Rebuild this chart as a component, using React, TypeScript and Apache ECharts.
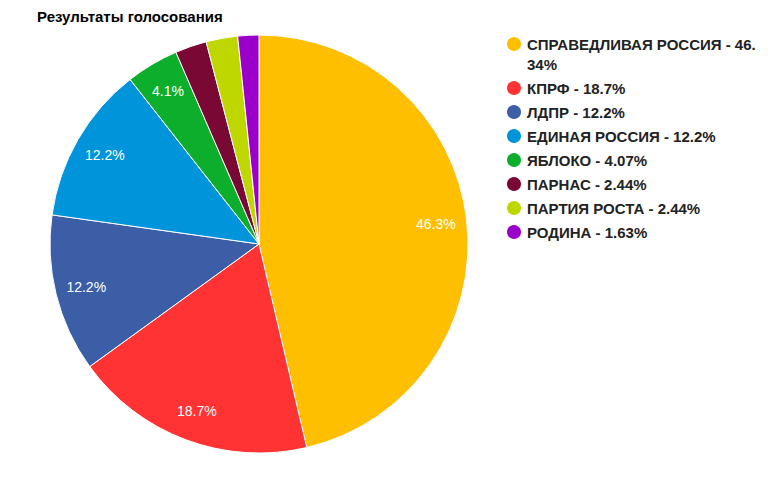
import React, { useEffect, useRef } from "react";
import * as echarts from "echarts";

const parties = [
  "СПРАВЕДЛИВАЯ РОССИЯ",
  "КПРФ",
  "ЛДПР",
  "ЕДИНАЯ РОССИЯ",
  "ЯБЛОКО",
  "ПАРНАС",
  "ПАРТИЯ РОСТА",
  "РОДИНА",
];
const shares = [46.34, 18.7, 12.2, 12.2, 4.07, 2.44, 2.44, 1.63];
const colors = [
  "#FDBF00",
  "#FF3333",
  "#3B5EA6",
  "#0094DB",
  "#0CAE2B",
  "#7A0835",
  "#BFD700",
  "#9A00C9",
];
const titleText = "Результаты голосования";

const FONT = "Liberation Sans, Arial, sans-serif";
const LEGEND_FONT_SIZE = 15;
const LEGEND_WRAP = 233;

function wrapText(text: string): string[] {
  const ctx = document.createElement("canvas").getContext("2d")!;
  ctx.font = `bold ${LEGEND_FONT_SIZE}px "Liberation Sans", Arial, sans-serif`;
  const lines: string[] = [];
  let cur = "";
  for (const ch of text) {
    if (cur && ctx.measureText(cur + ch).width > LEGEND_WRAP) {
      lines.push(cur);
      cur = ch;
    } else cur += ch;
  }
  if (cur) lines.push(cur);
  return lines;
}

export default function App() {
  const ref = useRef<HTMLDivElement>(null);
  useEffect(() => {
    document.body.style.margin = "0";
    const chart = echarts.init(ref.current!, null, { renderer: "svg" });
    const data = parties.map((name, i) => ({
      name,
      value: shares[i],
      itemStyle: { color: colors[i] },
    }));
    const fmtLegend = (name: string) => {
      const i = parties.indexOf(name);
      const lines = wrapText(`${name} - ${parseFloat(shares[i].toFixed(2))}%`);
      // pad with empty lines on top so the first line sits next to the icon
      const pad = new Array(lines.length - 1).fill("");
      return [...pad, ...lines].join("\n");
    };
    chart.setOption({
      animation: false,
      title: {
        text: titleText,
        left: 32,
        top: 4,
        textStyle: {
          fontFamily: FONT,
          fontSize: 15,
          fontWeight: "bold",
          color: "#000",
        },
      },
      legend: {
        orient: "vertical",
        left: 505,
        top: 14,
        padding: 0,
        icon: "circle",
        itemWidth: 16,
        itemHeight: 16,
        itemGap: 4,
        selectedMode: false,
        formatter: fmtLegend,
        data: parties,
        textStyle: {
          fontFamily: FONT,
          fontSize: LEGEND_FONT_SIZE,
          fontWeight: "bold",
          color: "#222",
          lineHeight: 20,
        },
      },
      series: [
        {
          type: "pie",
          center: [259, 244],
          radius: [0, 209],
          startAngle: 90,
          clockwise: true,
          data,
          label: { show: false },
          labelLine: { show: false },
          itemStyle: { borderColor: "#fff", borderWidth: 1 },
          emphasis: { disabled: true },
        },
        {
          type: "pie",
          center: [259, 244],
          radius: [141, 209],
          startAngle: 90,
          clockwise: true,
          silent: true,
          data: parties.map((name, i) => ({ name, value: shares[i] })),
          itemStyle: { color: "transparent", borderWidth: 0 },
          emphasis: { disabled: true },
          labelLine: { show: false },
          label: {
            show: true,
            position: "inside",
            color: "#fff",
            fontSize: 14,
            fontFamily: FONT,
            formatter: (p: any) => (p.value >= 3 ? `${p.value.toFixed(1)}%` : ""),
          },
        },
      ],
    });
    return () => chart.dispose();
  }, []);
  return <div ref={ref} style={{ width: 771, height: 491 }} />;
}
